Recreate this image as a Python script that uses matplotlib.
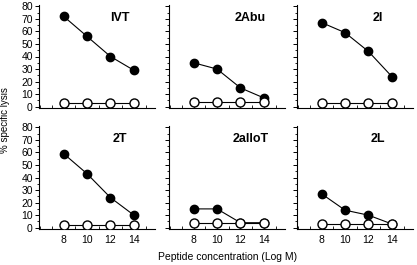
import matplotlib
matplotlib.use("Agg")
import matplotlib.pyplot as plt
from matplotlib.ticker import MultipleLocator

plt.rcParams['font.family'] = ['Liberation Sans', 'DejaVu Sans']

# Data
conc = [8, 10, 12, 14]
panels = ['IVT', '2Abu', '2I', '2T', '2alloT', '2L']
filled = [
    [72, 56, 40, 29],
    [35, 30, 15, 7],
    [67, 59, 44, 24],
    [59, 43, 24, 10],
    [15, 15, 4, 4],
    [27, 14, 10, 3],
]
opened = [
    [3, 3, 3, 3],
    [4, 4, 4, 4],
    [3, 3, 3, 3],
    [2.5, 2.5, 2.5, 2.5],
    [4, 4, 4, 4],
    [3, 3, 3, 3],
]
x_ticks = [8, 10, 12, 14]
y_ticks = [0, 10, 20, 30, 40, 50, 60, 70, 80]

fig = plt.figure(figsize=(4.17, 2.65), dpi=100)
W, H = 417, 265
lefts = [39, 169, 297]
tops = [5, 126]
pw, ph = 116, 103

for i, name in enumerate(panels):
    r, c = divmod(i, 3)
    ax = fig.add_axes([lefts[c] / W, 1 - (tops[r] + ph) / H, pw / W, ph / H])
    ax.plot(conc, filled[i], '-o', color='black', mfc='black', mec='black', ms=6, lw=0.8, zorder=3)
    ax.plot(conc, opened[i], '-o', color='black', mfc='white', mec='black', ms=6.5, lw=0.8, zorder=4)
    ax.set_xlim(5.9, 15.8)
    ax.set_ylim(-1, 81)
    ax.spines['top'].set_visible(False)
    ax.spines['right'].set_visible(False)
    ax.spines['left'].set_linewidth(0.8)
    ax.spines['bottom'].set_linewidth(0.8)
    ax.set_yticks(y_ticks)
    ax.yaxis.set_minor_locator(MultipleLocator(5))
    ax.set_xticks(x_ticks)
    ax.xaxis.set_minor_locator(MultipleLocator(1))
    ax.tick_params(axis='y', which='major', direction='out', length=3, width=0.7, labelsize=7.5, pad=1.5)
    ax.tick_params(axis='y', which='minor', direction='out', length=1.5, width=0.6)
    ax.tick_params(axis='x', which='both', direction='in', length=2, width=0.6, labelsize=7.5, pad=4)
    if c != 0:
        ax.set_yticklabels([])
    if r == 0:
        ax.set_xticklabels([])
    ax.text(0.70, 0.87, name, transform=ax.transAxes, ha='center', va='center',
            fontsize=9, fontweight='bold')

fig.text(5 / W, 1 - 120 / H, '% specific lysis', rotation=90, ha='center', va='center', fontsize=7)
fig.text(228 / W, 1 - 257 / H, 'Peptide concentration (Log M)', ha='center', va='center', fontsize=7.5)

fig.savefig('out.png', dpi=100)
